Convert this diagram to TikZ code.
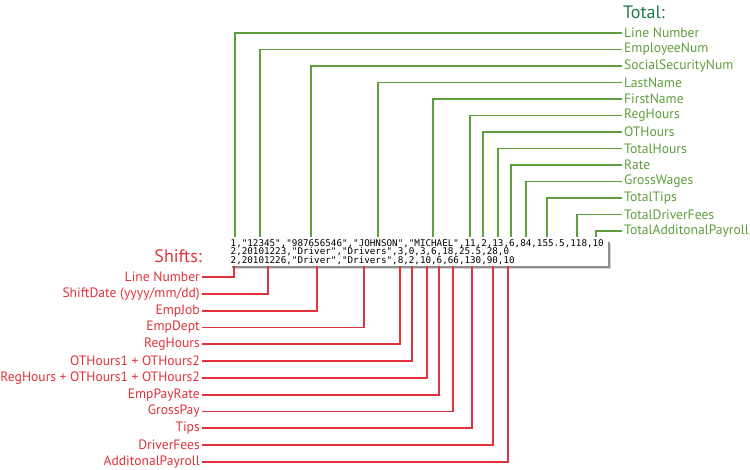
\documentclass[tikz,border=0pt]{standalone}
\usepackage{fontspec}
\setmainfont{PT Sans}
\setmonofont{DejaVu Sans Mono}
\usetikzlibrary{positioning}
\definecolor{totgreen}{HTML}{5E9E3C}
\definecolor{totdark}{HTML}{1F7A4A}
\definecolor{shiftred}{HTML}{E2323C}
\definecolor{boxgray}{HTML}{8E8E8E}
\definecolor{boxlight}{HTML}{D4D4D4}
\tikzset{
  totlab/.style    = {text=totgreen, anchor=west, inner sep=2pt, font=\fontsize{13.6}{15}\selectfont},
  shiftlab/.style  = {text=shiftred, anchor=east, inner sep=2pt, font=\fontsize{13.6}{15}\selectfont},
  head/.style      = {inner sep=0pt, font=\fontsize{18}{20}\selectfont},
  totline/.style   = {draw=totgreen, line width=1.3pt},
  shiftline/.style = {draw=shiftred, line width=1.4pt},
  datatxt/.style   = {anchor=base west, align=left, inner sep=0pt,
                      font=\ttfamily\fontsize{9.25}{8.6}\selectfont},
}
\begin{document}
\begin{tikzpicture}[x=1pt,y=-1pt]
    \useasboundingbox (0,0) rectangle (750,469);
    % record lines and their shadow
    \draw[boxlight,line width=1.2pt] (234,268.6) -| (610.6,244);
    \draw[boxgray,line width=1.1pt] (232,267) -| (609,242);
    \node[datatxt] (data) at (230.5,263.5)
      {1,"12345","987656546","JOHNSON","MICHAEL",11,2,13,6,84,155.5,118,10\\
       2,20101223,"Driver","Drivers",3,0,3,6,18,25.5,28,0\\
       2,20101226,"Driver","Drivers",8,2,10,6,66,130,90,10};
    % totals
    \node[head,text=totdark,anchor=west] (total) at (623,12) {Total:};
    \foreach \x/\y/\lab [count=\i] in {235/33/{Line Number}, 260/49.5/{EmployeeNum},
        311/66/{SocialSecurityNum}, 378/82.5/{LastName}, 433/99/{FirstName},
        470/115.5/{RegHours}, 483/132/{OTHours}, 498/148.5/{TotalHours},
        511/165/{Rate}, 526/181.5/{GrossWages}, 547/198/{TotalTips},
        577/214.5/{TotalDriverFees}, 596/231/{TotalAdditonalPayroll}}{
      \node[totlab] (tot\i) at (622,\y) {\lab};
      \coordinate (t\i) at (\x,237);
      \draw[totline] (tot\i.west) -| (t\i);}
    % shifts
    \node[head,text=shiftred,anchor=east] (shifts) at (202,256) {Shifts:};
    \foreach \x/\y/\lab [count=\i] in {234/277/{Line Number}, 268/294/{ShiftDate (yyyy/mm/dd)},
        317/311/{EmpJob}, 364/327.5/{EmpDept}, 400/344/{RegHours},
        412/361/{OTHours1 + OTHours2}, 427/378/{RegHours + OTHours1 + OTHours2},
        439/395/{EmpPayRate}, 453/411.5/{GrossPay}, 472/428/{Tips},
        493/445/{DriverFees}, 508/462/{AdditonalPayroll}}{
      \node[shiftlab] (sh\i) at (202,\y) {\lab};
      \coordinate (s\i) at (\x,266);
      \draw[shiftline] (sh\i.east) -| (s\i);}
\end{tikzpicture}
\end{document}
